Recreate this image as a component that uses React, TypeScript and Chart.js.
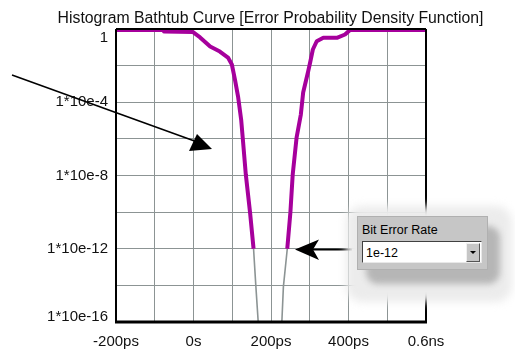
import React, { useEffect, useRef } from 'react';
import { Chart, registerables } from 'chart.js';

Chart.register(...registerables);

const TITLE = 'Histogram Bathtub Curve [Error Probability Density Function]';
const xTickValues = [-200, 0, 200, 400, 600];
const xTickLabels = ['-200ps', '0s', '200ps', '400ps', '0.6ns'];
const yTickExponents = [0, -4, -8, -12, -16];
const yTickLabels = ['1', '1*10e-4', '1*10e-8', '1*10e-12', '1*10e-16'];
const berLabel = 'Bit Error Rate';
const berValue = '1e-12';

// left edge of the eye: time (ps) and log10(BER)
const leftUpperPs = [-200, -78, -76, -2, 17, 43, 68, 89, 99, 107, 115, 123, 127, 135, 146, 155];
const leftUpperLogBer = [-0.05, -0.05, -0.14, -0.16, -0.46, -0.96, -1.23, -1.56, -1.94, -2.76, -3.69, -4.95, -5.93, -7.95, -10.03, -12];
const leftLowerPs = [155, 161, 167];
const leftLowerLogBer = [-12, -14.07, -16];
// right edge of the eye
const rightLowerPs = [228, 232, 242];
const rightLowerLogBer = [-16, -14.07, -12];
const rightUpperPs = [242, 250, 256, 266, 277, 283, 296, 301, 308, 318, 335, 370, 391, 404, 600];
const rightUpperLogBer = [-12, -10.03, -7.95, -5.93, -4.67, -3.47, -2.31, -1.83, -1.12, -0.67, -0.48, -0.48, -0.3, -0.05, -0.05];

const FONT = '"Liberation Sans", Arial, sans-serif';
const MAGENTA = '#a6009c';
const GRAYLINE = '#8c9494';

const pts = (xs: number[], ys: number[]) => xs.map((x, i) => ({ x, y: ys[i] }));

const framePlugin = {
  id: 'frameAndLabels',
  afterDraw(chart: any) {
    const { ctx, chartArea } = chart;
    const { left, right, top, bottom } = chartArea;
    ctx.save();
    ctx.strokeStyle = '#000';
    ctx.lineWidth = 2;
    ctx.beginPath();
    ctx.moveTo(left, top);
    ctx.lineTo(right, top);
    ctx.moveTo(right, top);
    ctx.lineTo(right, bottom);
    ctx.moveTo(left, top);
    ctx.lineTo(left, bottom);
    ctx.stroke();
    ctx.lineWidth = 3;
    ctx.beginPath();
    ctx.moveTo(left - 1, bottom);
    ctx.lineTo(right + 1, bottom);
    ctx.stroke();
    // title
    ctx.fillStyle = '#111';
    ctx.font = `15.8px ${FONT}`;
    ctx.textAlign = 'center';
    ctx.textBaseline = 'alphabetic';
    ctx.fillText(TITLE, 270.5, 23);
    // y labels
    const ys = chart.scales.y;
    ctx.font = `15px ${FONT}`;
    ctx.textAlign = 'right';
    ctx.textBaseline = 'middle';
    yTickExponents.forEach((e, i) => {
      let y = ys.getPixelForValue(e);
      y = Math.max(top + 8.5, Math.min(bottom - 5.5, y));
      ctx.fillText(yTickLabels[i], 108, y);
    });
    ctx.restore();
  },
};

export default function App() {
  const ref = useRef<HTMLCanvasElement>(null);
  useEffect(() => {
    if (!ref.current) return;
    const chart = new Chart(ref.current, {
      type: 'line',
      data: {
        datasets: [
          { data: pts(leftUpperPs, leftUpperLogBer), borderColor: MAGENTA, borderWidth: 4 },
          { data: pts(rightUpperPs, rightUpperLogBer), borderColor: MAGENTA, borderWidth: 4 },
          { data: pts(leftLowerPs, leftLowerLogBer), borderColor: GRAYLINE, borderWidth: 1.6 },
          { data: pts(rightLowerPs, rightLowerLogBer), borderColor: GRAYLINE, borderWidth: 1.6 },
        ].map((d) => ({ ...d, pointRadius: 0, tension: 0, fill: false, borderJoinStyle: 'round' as const })),
      },
      options: {
        responsive: false,
        animation: false,
        layout: { padding: { left: 0, right: 89, top: 29, bottom: 0 } },
        plugins: { legend: { display: false }, title: { display: false }, tooltip: { enabled: false } },
        scales: {
          x: {
            type: 'linear',
            min: -200,
            max: 600,
            afterFit: (s: any) => { s.height = 30; },
            border: { display: false },
            grid: { color: GRAYLINE, lineWidth: 1, drawTicks: false },
            ticks: {
              stepSize: 100,
              autoSkip: false,
              maxRotation: 0,
              padding: 11,
              color: '#111',
              font: { family: FONT, size: 15 },
              callback: (v: any) => {
                const i = xTickValues.indexOf(Number(v));
                return i >= 0 ? xTickLabels[i] : '';
              },
            },
          },
          y: {
            type: 'linear',
            min: -16,
            max: 0,
            afterFit: (s: any) => { s.width = 116; },
            border: { display: false },
            grid: { color: GRAYLINE, lineWidth: 1, drawTicks: false },
            ticks: { stepSize: 2, display: false },
          },
        },
      },
      plugins: [framePlugin],
    });
    return () => chart.destroy();
  }, []);

  return (
    <div style={{ position: 'absolute', left: 0, top: 0, width: 515, height: 352, background: '#fff', overflow: 'hidden' }}>
      <canvas ref={ref} width={515} height={352} style={{ position: 'absolute', left: 0, top: 0 }} />
      <svg width={515} height={352} style={{ position: 'absolute', left: 0, top: 0 }}>
        <line x1={12} y1={75} x2={200} y2={143} stroke="#000" strokeWidth={1.6} />
        <polygon points="197,134 189,151 212,149" fill="#000" />
        <line x1={312} y1={249.5} x2={352} y2={249.5} stroke="#000" strokeWidth={2} />
        <polygon points="295,249.5 319,239.5 313,249.5 319,260" fill="#000" />
      </svg>
      <div style={{ position: 'absolute', left: 346, top: 206, width: 166, height: 96, background: '#ececec', borderRadius: 16, filter: 'blur(4px)' }} />
      <div style={{ position: 'absolute', left: 366, top: 226, width: 134, height: 58, background: '#b6b6b6', borderRadius: 12, filter: 'blur(3px)' }} />
      <div style={{ position: 'absolute', left: 357, top: 216, width: 129, height: 52, background: '#c6c6c6', border: '1px solid #b0b0b0' }}>
        <div style={{ position: 'absolute', left: 4, top: 6, font: `12.5px ${FONT}`, lineHeight: '14px', color: '#000', whiteSpace: 'nowrap' }}>{berLabel}</div>
        <div style={{ position: 'absolute', left: 4, top: 24, width: 118, height: 20, background: '#fff', borderTop: '1px solid #404040', borderLeft: '1px solid #404040', borderBottom: '1px solid #e8e8e8', borderRight: '1px solid #e8e8e8' }}>
          <div style={{ position: 'absolute', left: 3, top: 4, font: `12.5px ${FONT}`, lineHeight: '14px', color: '#000' }}>{berValue}</div>
          <div style={{ position: 'absolute', right: 1, top: 1, width: 12, height: 17, background: '#c6c6c6', borderTop: '1px solid #f0f0f0', borderLeft: '1px solid #f0f0f0', borderBottom: '1px solid #555', borderRight: '1px solid #555' }}>
            <div style={{ position: 'absolute', left: 3, top: 7, width: 0, height: 0, borderLeft: '3px solid transparent', borderRight: '3px solid transparent', borderTop: '3px solid #000' }} />
          </div>
        </div>
      </div>
    </div>
  );
}
